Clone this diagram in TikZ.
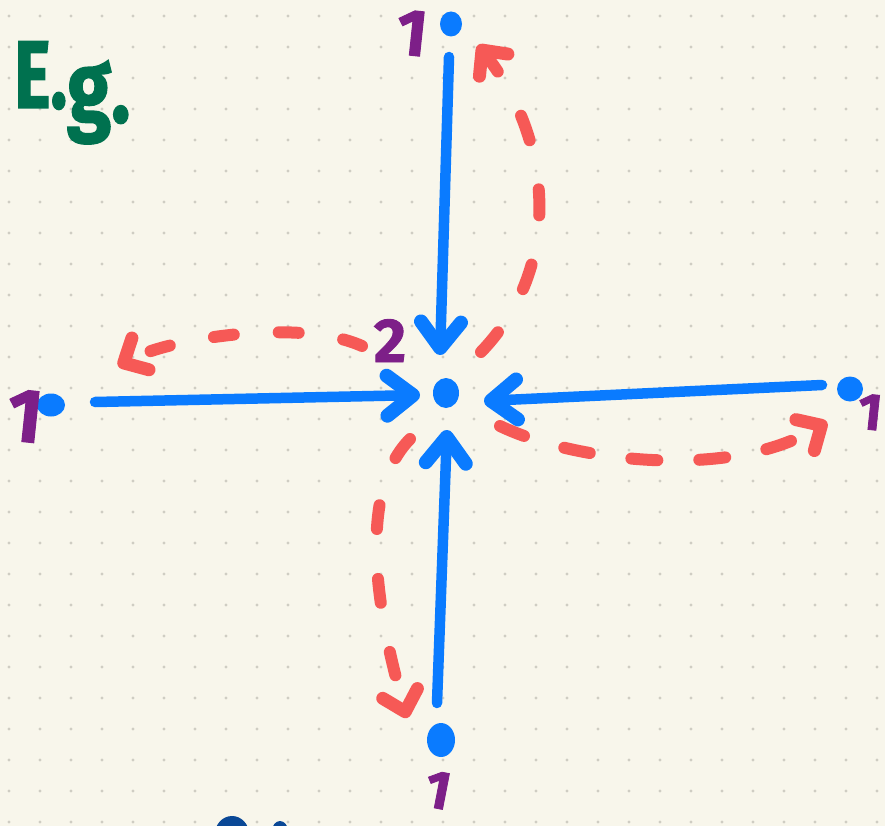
\documentclass[tikz,border=0pt]{standalone}
\usepackage{fontspec}
\newfontfamily\handfont{Fira Sans}[BoldFeatures={FakeBold=1.5}]
\usetikzlibrary{arrows.meta,shapes.geometric}
\definecolor{bg}{HTML}{F8F6EB}
\definecolor{dotc}{HTML}{CFCDC3}
\definecolor{bl}{HTML}{0A7BFF}
\definecolor{pu}{HTML}{7D1F88}
\definecolor{rd}{HTML}{F65956}
\definecolor{gr}{HTML}{00714F}
\definecolor{db}{HTML}{0A4896}
\begin{document}
\begin{tikzpicture}[x=1pt,y=-1pt,
  bdot/.style={ellipse, fill=bl, inner sep=0pt},
  barrow/.style={draw=bl, line width=10.5pt, line cap=round,
    -{Straight Barb[length=26pt, width=40pt, line width=14pt, round]}},
  rarrow/.style={draw=rd, line width=12pt, line cap=round,
    -{Straight Barb[length=19pt, width=36pt, line width=13pt, round]}},
  onelab/.style={text=pu, inner sep=0pt, font=\handfont\bfseries\fontsize{66}{66}\selectfont, rotate=-6}]
\useasboundingbox (0,0) rectangle (885,826);
\fill[bg] (0,0) rectangle (885,826);
\foreach \i in {0,...,28}{\foreach \j in {0,...,26}{\fill[dotc] (9+31*\i,16+31*\j) circle[radius=1.6];}}

% vertices
\node[bdot, minimum width=26pt, minimum height=30pt] (c) at (446,393) {};
\node[bdot, minimum width=22pt, minimum height=25pt] (t) at (451,24) {};
\node[bdot, minimum width=28pt, minimum height=23pt] (l) at (51,405) {};
\node[bdot, minimum width=26pt, minimum height=25pt] (r) at (850,389) {};
\node[bdot, minimum width=28pt, minimum height=34pt] (b) at (441,740) {};

% labels
\node[onelab] (lt) at (412,33) {1};
\node[onelab, font=\handfont\bfseries\fontsize{76}{76}\selectfont] (ll) at (25,416) {1};
\node[onelab, font=\handfont\bfseries\fontsize{52}{52}\selectfont] (lr) at (870,412) {1};
\node[onelab, rotate=-5, font=\handfont\bfseries\fontsize{54}{54}\selectfont] (lb) at (438,790) {1};
\node[text=pu, inner sep=0pt, anchor=base, font=\handfont\bfseries\fontsize{62}{62}\selectfont] (two) at (390,362) {2};
\node[text=gr, inner sep=0pt, anchor=base west, font=\handfont\bfseries\fontsize{96}{96}\selectfont] (eg) at (14,108)
  {\scalebox{0.72}[1]{E.}\raisebox{-14pt}{\scalebox{0.8}[1]{\fontsize{100}{100}\selectfont g.}}};

% blue arrows
\draw[barrow] ([shift={(-2,33)}]t.center) -- ([shift={(-6,-38)}]c.center);
\draw[barrow] ([shift={(44,-3)}]l.center) -- ([shift={(-26,2)}]c.center);
\draw[barrow] ([shift={(-28,-4)}]r.center) -- ([shift={(38,8)}]c.center);
\draw[barrow] ([shift={(-4,-37)}]b.center) -- ([shift={(1,37)}]c.center);

% red dashed arrows
\draw[rarrow, dash pattern=on 26pt off 50pt] ([shift={(35,-41)}]c.center) .. controls (564,266) and (552,140) .. ([shift={(27,21)}]t.center);
\draw[rarrow, dash pattern=on 20pt off 45pt] ([shift={(-84,-47)}]c.center) .. controls (300,318) and (170,338) .. ([shift={(67,-39)}]l.center);
\draw[rarrow, dash pattern=on 26pt off 42pt] ([shift={(54,33)}]c.center) .. controls (575,462) and (730,480) .. ([shift={(-23,33)}]r.center);
\draw[rarrow, dash pattern=on 24pt off 50pt] ([shift={(-36,46)}]c.center) .. controls (350,500) and (385,640) .. ([shift={(-34,-22)}]b.center);

% partial strokes at the bottom edge
\begin{scope}
\clip (0,0) rectangle (885,826);
\fill[db] (232,834) ellipse[x radius=17, y radius=18];
\fill[db] (280,831) ellipse[x radius=8, y radius=10];
\end{scope}
\end{tikzpicture}
\end{document}
